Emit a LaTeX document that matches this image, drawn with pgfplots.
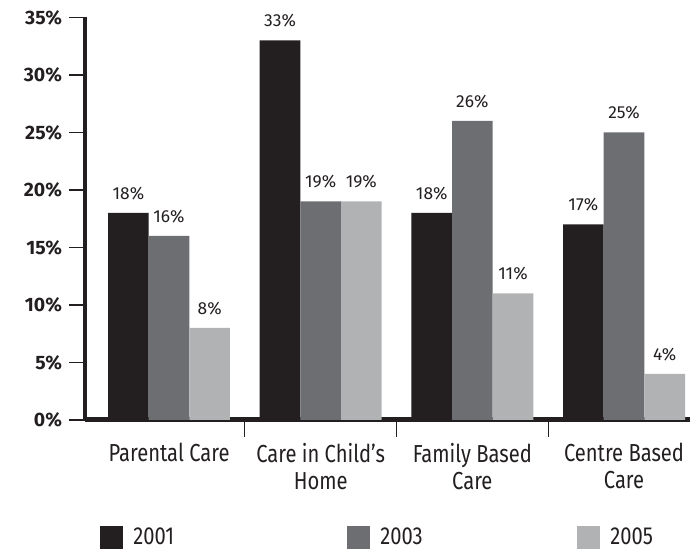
\documentclass[border=0pt]{standalone}
\usepackage{pgfplots}
\pgfplotsset{compat=1.18}
\usepackage{fontspec}
\setmainfont{Fira Sans}
\newfontfamily\condfont{Fira Sans}[FakeStretch=0.82]
\definecolor{cA}{HTML}{231F20}
\definecolor{cB}{HTML}{6D6E71}
\definecolor{cC}{HTML}{B1B2B4}
\begin{document}
\begin{tikzpicture}
\useasboundingbox (-42.5pt,-65pt) rectangle (302.5pt,210pt);
\begin{axis}[
 at={(0pt,0pt)}, anchor=south west,
 scale only axis, width=302.5pt, height=201.25pt,
 xmin=-0.554, xmax=3.435, ymin=0, ymax=35,
 axis x line*=bottom, axis y line*=left,
 x axis line style={line width=2.5pt,-,draw=cA},
 y axis line style={line width=2pt,-,draw=cA},
 tick align=outside, major tick length=8pt,
 xtick={0,1,2,3},
 xticklabels={Parental Care, Care in Child’s\\Home, Family Based\\Care, Centre Based\\Care},
 xticklabel style={align=center, font=\condfont\fontsize{12.3}{13.5}\selectfont, text=cA},
 x tick style={draw=none},
 extra x ticks={0.5,1.5,2.5}, extra x tick labels={},
 extra x tick style={x tick style={draw=cA, line width=0.6pt}, major tick length=8.5pt},
 ytick={0,5,...,35},
 yticklabel={\pgfmathprintnumber{\tick}\%},
 yticklabel style={font=\bfseries\fontsize{9.7}{11}\selectfont, text=cA},
 y tick style={draw=cA, line width=0.6pt},
 /pgf/number format/assume math mode=true,
 ybar, bar width=0.268,
 nodes near coords={\pgfmathprintnumber{\pgfplotspointmeta}\%},
 nodes near coords style={font=\fontsize{8.7}{10}\selectfont, yshift=3pt, text=cA},
 legend columns=3,
 legend image code/.code={\fill[#1] (0pt,-5.75pt) rectangle (11.5pt,5.75pt);},
 legend style={font=\condfont\fontsize{12.3}{13}\selectfont, text=cA, draw=none, fill=none,
   at={(rel axis cs:0,0)}, anchor=north west, xshift=7.5pt, yshift=-53pt,
   inner sep=0pt, column sep=5pt, nodes={inner sep=0pt}},
 clip=false,
]
\addlegendimage{fill=cA, draw=none}
\addlegendimage{fill=cB, draw=none}
\addlegendimage{fill=cC, draw=none}
\addplot[fill=cA, draw=none, bar shift=-0.268, forget plot] coordinates {(0,18) (1,33) (2,18) (3,17)};
\addplot[fill=cB, draw=none, bar shift=0, forget plot] coordinates {(0,16) (1,19) (2,26) (3,25)};
\addplot[fill=cC, draw=none, bar shift=0.268, forget plot] coordinates {(0,8) (1,19) (2,11) (3,4)};
\legend{\makebox[102pt][l]{2001}, \makebox[93.5pt][l]{2003}, 2005}
\end{axis}
\end{tikzpicture}
\end{document}
